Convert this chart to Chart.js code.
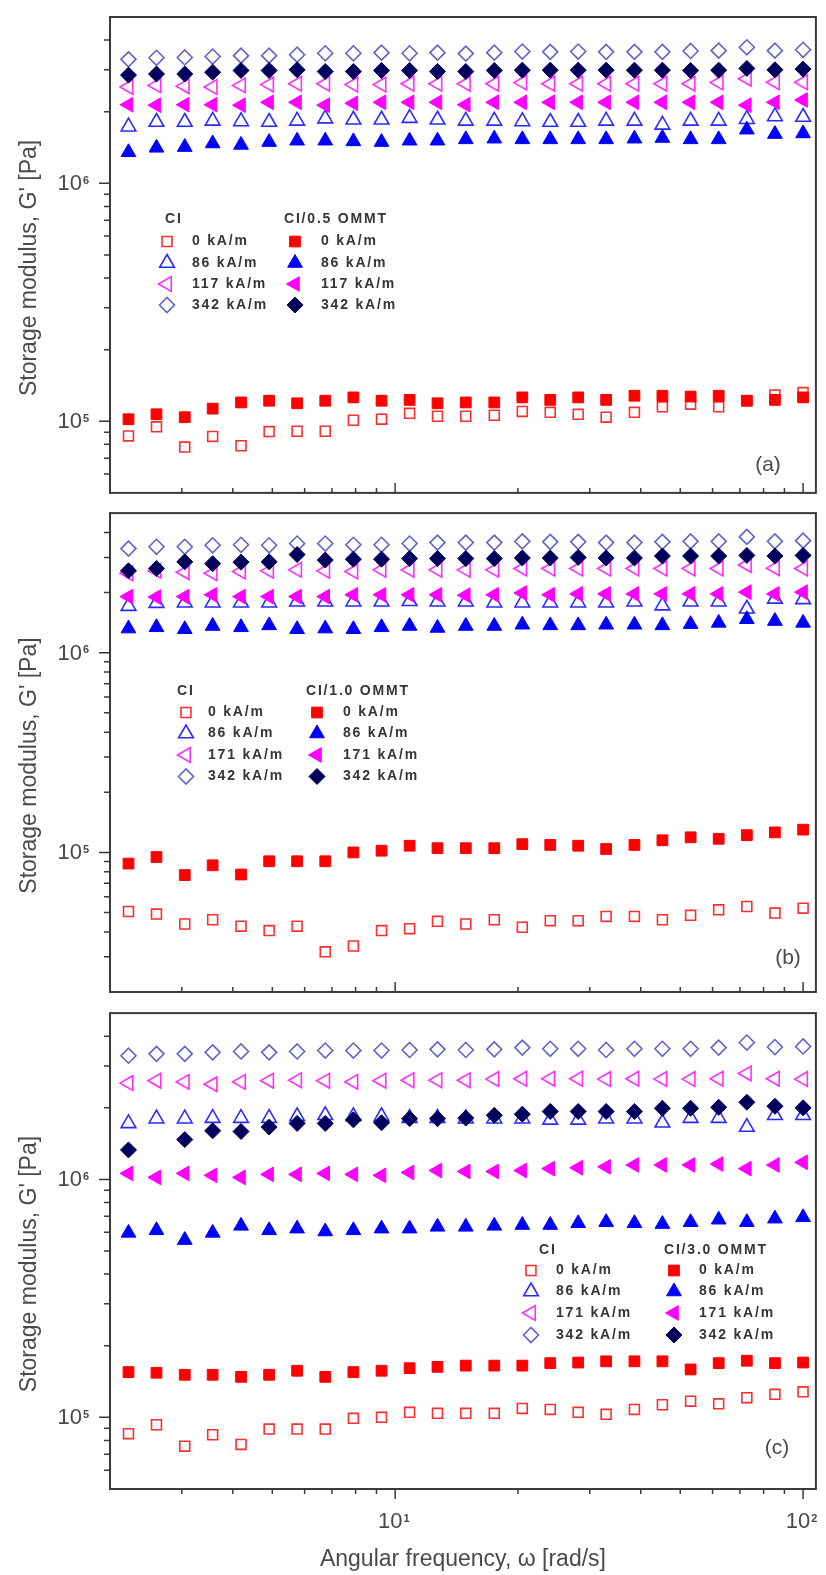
<!DOCTYPE html>
<html>
<head>
<meta charset="utf-8">
<script src="https://cdn.jsdelivr.net/npm/chart.js@4.4.1/dist/chart.umd.min.js"></script>
<style>
  html, body { margin: 0; padding: 0; background: #ffffff; }
  #wrap { position: relative; width: 826px; height: 1575px; overflow: hidden; background: #ffffff; }
  #wrap canvas { position: absolute; left: 0; }
</style>
</head>
<body>
<div id="wrap">
  <canvas id="panelA" width="826" height="503" style="top:0px"></canvas>
  <canvas id="panelB" width="826" height="500" style="top:503px"></canvas>
  <canvas id="panelC" width="826" height="572" style="top:1003px"></canvas>
</div>
<script>
// ---- Angular frequency sweep [rad/s] ----
const freq = [2.22, 2.60, 3.05, 3.57, 4.19, 4.91, 5.75, 6.74, 7.90, 9.26, 10.85, 12.7, 14.9,
              17.5, 20.5, 24.0, 28.1, 32.9, 38.6, 45.2, 53.0, 62.1, 72.8, 85.3, 100];

// ---- (a) CI and CI/0.5 OMMT, storage modulus G' [Pa] ----
const a_ci_0   = [8.68e4, 9.48e4, 7.79e4, 8.64e4, 7.89e4, 9.05e4, 9.08e4, 9.08e4, 1.01e5, 1.02e5, 1.08e5, 1.05e5, 1.05e5,
                  1.06e5, 1.10e5, 1.09e5, 1.07e5, 1.04e5, 1.09e5, 1.15e5, 1.18e5, 1.15e5, 1.22e5, 1.29e5, 1.32e5];
const a_ci_86  = [1.73e6, 1.81e6, 1.81e6, 1.83e6, 1.82e6, 1.81e6, 1.83e6, 1.87e6, 1.85e6, 1.85e6, 1.88e6, 1.85e6, 1.83e6,
                  1.83e6, 1.82e6, 1.81e6, 1.81e6, 1.83e6, 1.83e6, 1.76e6, 1.83e6, 1.83e6, 1.86e6, 1.91e6, 1.90e6];
const a_ci_117 = [2.54e6, 2.58e6, 2.56e6, 2.54e6, 2.58e6, 2.60e6, 2.62e6, 2.62e6, 2.60e6, 2.60e6, 2.62e6, 2.62e6, 2.62e6,
                  2.62e6, 2.65e6, 2.62e6, 2.62e6, 2.62e6, 2.62e6, 2.62e6, 2.62e6, 2.65e6, 2.75e6, 2.66e6, 2.66e6];
const a_ci_342 = [3.32e6, 3.37e6, 3.38e6, 3.41e6, 3.44e6, 3.44e6, 3.47e6, 3.52e6, 3.52e6, 3.54e6, 3.52e6, 3.54e6, 3.51e6,
                  3.54e6, 3.58e6, 3.57e6, 3.58e6, 3.57e6, 3.57e6, 3.57e6, 3.60e6, 3.61e6, 3.73e6, 3.61e6, 3.64e6];
const a_om_0   = [1.02e5, 1.07e5, 1.04e5, 1.13e5, 1.20e5, 1.22e5, 1.19e5, 1.22e5, 1.26e5, 1.22e5, 1.23e5, 1.19e5, 1.20e5,
                  1.20e5, 1.26e5, 1.23e5, 1.26e5, 1.23e5, 1.28e5, 1.28e5, 1.27e5, 1.28e5, 1.22e5, 1.23e5, 1.26e5];
const a_om_86  = [1.35e6, 1.41e6, 1.42e6, 1.47e6, 1.45e6, 1.49e6, 1.51e6, 1.51e6, 1.50e6, 1.49e6, 1.51e6, 1.51e6, 1.53e6,
                  1.54e6, 1.53e6, 1.53e6, 1.53e6, 1.53e6, 1.54e6, 1.55e6, 1.53e6, 1.53e6, 1.68e6, 1.61e6, 1.62e6];
const a_om_117 = [2.14e6, 2.13e6, 2.14e6, 2.14e6, 2.13e6, 2.19e6, 2.19e6, 2.13e6, 2.17e6, 2.19e6, 2.19e6, 2.19e6, 2.14e6,
                  2.19e6, 2.19e6, 2.19e6, 2.19e6, 2.19e6, 2.19e6, 2.19e6, 2.19e6, 2.19e6, 2.13e6, 2.19e6, 2.24e6];
const a_om_342 = [2.85e6, 2.88e6, 2.88e6, 2.93e6, 2.98e6, 2.98e6, 3.00e6, 2.95e6, 2.95e6, 2.98e6, 2.98e6, 2.95e6, 2.95e6,
                  2.98e6, 2.99e6, 2.99e6, 2.99e6, 2.99e6, 2.99e6, 2.99e6, 2.98e6, 2.99e6, 3.04e6, 3.00e6, 3.02e6];

// ---- (b) CI and CI/1.0 OMMT ----
const b_ci_0   = [5.06e4, 4.91e4, 4.38e4, 4.60e4, 4.27e4, 4.06e4, 4.27e4, 3.18e4, 3.40e4, 4.06e4, 4.15e4, 4.52e4, 4.38e4,
                  4.60e4, 4.22e4, 4.55e4, 4.55e4, 4.78e4, 4.78e4, 4.60e4, 4.84e4, 5.16e4, 5.36e4, 4.97e4, 5.26e4];
const b_ci_86  = [1.71e6, 1.77e6, 1.78e6, 1.78e6, 1.78e6, 1.78e6, 1.80e6, 1.80e6, 1.80e6, 1.80e6, 1.81e6, 1.80e6, 1.80e6,
                  1.78e6, 1.78e6, 1.78e6, 1.78e6, 1.78e6, 1.80e6, 1.72e6, 1.80e6, 1.80e6, 1.66e6, 1.86e6, 1.85e6];
const b_ci_171 = [2.50e6, 2.57e6, 2.53e6, 2.50e6, 2.55e6, 2.57e6, 2.60e6, 2.57e6, 2.55e6, 2.60e6, 2.60e6, 2.60e6, 2.60e6,
                  2.60e6, 2.64e6, 2.64e6, 2.64e6, 2.64e6, 2.64e6, 2.64e6, 2.64e6, 2.64e6, 2.75e6, 2.65e6, 2.64e6];
const b_ci_342 = [3.32e6, 3.39e6, 3.39e6, 3.45e6, 3.47e6, 3.45e6, 3.52e6, 3.52e6, 3.47e6, 3.47e6, 3.52e6, 3.56e6, 3.56e6,
                  3.56e6, 3.61e6, 3.59e6, 3.59e6, 3.56e6, 3.56e6, 3.59e6, 3.61e6, 3.61e6, 3.80e6, 3.61e6, 3.64e6];
const b_om_0   = [8.79e4, 9.48e4, 7.70e4, 8.62e4, 7.75e4, 9.03e4, 9.03e4, 9.03e4, 1.00e5, 1.02e5, 1.08e5, 1.05e5, 1.05e5,
                  1.05e5, 1.10e5, 1.09e5, 1.08e5, 1.04e5, 1.09e5, 1.15e5, 1.19e5, 1.17e5, 1.22e5, 1.26e5, 1.30e5];
const b_om_86  = [1.32e6, 1.34e6, 1.31e6, 1.36e6, 1.34e6, 1.37e6, 1.31e6, 1.32e6, 1.31e6, 1.34e6, 1.36e6, 1.33e6, 1.36e6,
                  1.36e6, 1.38e6, 1.37e6, 1.37e6, 1.38e6, 1.38e6, 1.37e6, 1.39e6, 1.41e6, 1.47e6, 1.44e6, 1.41e6];
const b_om_171 = [1.91e6, 1.90e6, 1.91e6, 1.95e6, 1.91e6, 1.91e6, 1.91e6, 1.91e6, 1.95e6, 1.95e6, 1.95e6, 1.95e6, 1.94e6,
                  1.95e6, 1.99e6, 1.95e6, 1.97e6, 1.97e6, 1.97e6, 1.97e6, 1.97e6, 1.97e6, 2.01e6, 1.97e6, 2.01e6];
const b_om_342 = [2.57e6, 2.64e6, 2.85e6, 2.79e6, 2.84e6, 2.85e6, 3.10e6, 2.91e6, 2.94e6, 2.94e6, 2.96e6, 2.96e6, 2.96e6,
                  2.96e6, 2.98e6, 2.98e6, 3.00e6, 2.98e6, 2.98e6, 3.05e6, 3.05e6, 3.05e6, 3.07e6, 3.05e6, 3.07e6];

// ---- (c) CI and CI/3.0 OMMT ----
const c_ci_0   = [8.54e4, 9.31e4, 7.57e4, 8.45e4, 7.70e4, 8.93e4, 8.93e4, 8.93e4, 9.91e4, 1.00e5, 1.05e5, 1.04e5, 1.04e5,
                  1.04e5, 1.09e5, 1.08e5, 1.05e5, 1.03e5, 1.08e5, 1.13e5, 1.17e5, 1.14e5, 1.21e5, 1.25e5, 1.28e5];
const c_ci_86  = [1.72e6, 1.80e6, 1.80e6, 1.81e6, 1.81e6, 1.81e6, 1.84e6, 1.86e6, 1.84e6, 1.84e6, 1.81e6, 1.81e6, 1.80e6,
                  1.80e6, 1.80e6, 1.78e6, 1.78e6, 1.80e6, 1.80e6, 1.73e6, 1.81e6, 1.81e6, 1.66e6, 1.86e6, 1.86e6];
const c_ci_171 = [2.54e6, 2.60e6, 2.57e6, 2.51e6, 2.57e6, 2.60e6, 2.61e6, 2.60e6, 2.57e6, 2.60e6, 2.61e6, 2.61e6, 2.61e6,
                  2.64e6, 2.65e6, 2.65e6, 2.65e6, 2.64e6, 2.65e6, 2.64e6, 2.64e6, 2.65e6, 2.79e6, 2.65e6, 2.64e6];
const c_ci_342 = [3.31e6, 3.37e6, 3.37e6, 3.42e6, 3.45e6, 3.42e6, 3.45e6, 3.48e6, 3.48e6, 3.48e6, 3.50e6, 3.52e6, 3.50e6,
                  3.52e6, 3.58e6, 3.54e6, 3.54e6, 3.50e6, 3.54e6, 3.54e6, 3.54e6, 3.58e6, 3.76e6, 3.60e6, 3.62e6];
const c_om_0   = [1.55e5, 1.54e5, 1.51e5, 1.51e5, 1.48e5, 1.51e5, 1.57e5, 1.48e5, 1.55e5, 1.57e5, 1.61e5, 1.63e5, 1.65e5,
                  1.65e5, 1.65e5, 1.69e5, 1.70e5, 1.72e5, 1.72e5, 1.72e5, 1.59e5, 1.69e5, 1.73e5, 1.69e5, 1.70e5];
const c_om_86  = [5.96e5, 6.11e5, 5.56e5, 5.96e5, 6.38e5, 6.11e5, 6.21e5, 6.04e5, 6.11e5, 6.21e5, 6.21e5, 6.32e5, 6.32e5,
                  6.38e5, 6.43e5, 6.43e5, 6.54e5, 6.61e5, 6.54e5, 6.49e5, 6.61e5, 6.77e5, 6.61e5, 6.84e5, 6.93e5];
const c_om_171 = [1.06e6, 1.02e6, 1.06e6, 1.04e6, 1.02e6, 1.05e6, 1.05e6, 1.06e6, 1.05e6, 1.04e6, 1.07e6, 1.09e6, 1.08e6,
                  1.08e6, 1.09e6, 1.11e6, 1.12e6, 1.13e6, 1.15e6, 1.15e6, 1.15e6, 1.16e6, 1.11e6, 1.15e6, 1.18e6];
const c_om_342 = [1.33e6, null,   1.47e6, 1.60e6, 1.59e6, 1.66e6, 1.72e6, 1.72e6, 1.78e6, 1.73e6, 1.80e6, 1.80e6, 1.81e6,
                  1.86e6, 1.88e6, 1.93e6, 1.93e6, 1.93e6, 1.93e6, 1.99e6, 1.99e6, 2.01e6, 2.11e6, 2.03e6, 2.00e6];

// ---- legend and axis texts ----
const fieldLabelsA  = ['0 kA/m', '86 kA/m', '117 kA/m', '342 kA/m'];
const fieldLabelsBC = ['0 kA/m', '86 kA/m', '171 kA/m', '342 kA/m'];
const yMajorExp = [5, 6];          // decade labels on the modulus axis
const xMajorExp = [1, 2];          // decade labels on the frequency axis
const yMinorTicks = [2e4, 3e4, 4e4, 5e4, 6e4, 7e4, 8e4, 9e4, 2e5, 3e5, 4e5, 5e5, 6e5, 7e5, 8e5, 9e5, 2e6, 3e6, 4e6];
const xMinorTicks = [3, 4, 5, 6, 7, 8, 9, 20, 30, 40, 50, 60, 70, 80, 90];
const yTitle = "Storage modulus, G' [Pa]";
const xTitle = 'Angular frequency, \u03C9 [rad/s]';

// ---- marker styles ----
const STYLE = {
  ci0:   { shape: 'rect',     color: '#ff2e2e', fill: false, r: 7.0, rot: 0 },
  ci86:  { shape: 'triangle', color: '#2b2bff', fill: false, r: 8.5, rot: 0 },
  ciMid: { shape: 'triangle', color: '#ff2eff', fill: false, r: 8.5, rot: -90 },
  ci342: { shape: 'rectRot',  color: '#6262c6', fill: false, r: 7.5, rot: 0 },
  om0:   { shape: 'rect',     color: '#ff0000', fill: true,  r: 7.6, rot: 0 },
  om86:  { shape: 'triangle', color: '#0000ff', fill: true,  r: 8.5, rot: 0 },
  omMid: { shape: 'triangle', color: '#ff00ff', fill: true,  r: 8.5, rot: -90 },
  om342: { shape: 'rectRot',  color: '#00005c', fill: true,  r: 8.0, rot: 0 }
};

const FONT = '"Liberation Sans", Arial, Helvetica, sans-serif';
const AXIS_COLOR = '#3a3a3a';
const TEXT_COLOR = '#4a4a4a';

function dataset(values, st, order) {
  return {
    data: freq.map((f, i) => ({ x: f, y: values[i] })),
    pointStyle: st.shape,
    pointRadius: st.r,
    pointHoverRadius: st.r,
    pointRotation: st.rot,
    pointBackgroundColor: st.fill ? st.color : '#ffffff',
    pointBorderColor: st.color,
    pointBorderWidth: st.fill ? 1 : 1.6,
    showLine: false,
    order: order
  };
}

function marker(ctx, st, x, y) {
  ctx.save();
  ctx.fillStyle = st.fill ? st.color : '#ffffff';
  ctx.strokeStyle = st.color;
  ctx.lineWidth = st.fill ? 1 : 1.6;
  Chart.helpers.drawPoint(ctx, { pointStyle: st.shape, radius: st.r, rotation: st.rot, borderWidth: ctx.lineWidth }, x, y);
  ctx.restore();
}

function tenPower(ctx, exp, x, y, align) {
  ctx.fillStyle = TEXT_COLOR;
  ctx.font = '22px ' + FONT;
  ctx.textBaseline = 'middle';
  const w = ctx.measureText('10').width;
  const left = align === 'right' ? x - w : x - w / 2;
  ctx.textAlign = 'left';
  ctx.fillText('10', left, y);
  ctx.font = 'bold 11px ' + FONT;
  ctx.textBaseline = 'top';
  ctx.fillText(String(exp), left + w + 1, y - 9);
}

// Frame, tick marks, tick labels, titles and the two-column legend
const decorPlugin = {
  id: 'decor',
  afterDraw(chart, args, o) {
    const { ctx, chartArea: ca } = chart;
    const xs = chart.scales.x, ys = chart.scales.y;
    const off = o.offset;
    ctx.save();

    // box
    ctx.strokeStyle = AXIS_COLOR;
    ctx.lineWidth = 2;
    ctx.strokeRect(ca.left, ca.top, ca.right - ca.left, ca.bottom - ca.top);

    // y ticks (outward)
    ctx.lineWidth = 1.5;
    ctx.beginPath();
    yMajorExp.forEach(e => {
      const p = ys.getPixelForValue(Math.pow(10, e));
      ctx.moveTo(ca.left - 11, p); ctx.lineTo(ca.left, p);
    });
    yMinorTicks.forEach(v => {
      if (v <= ys.min || v >= ys.max) return;
      const p = ys.getPixelForValue(v);
      ctx.moveTo(ca.left - 6, p); ctx.lineTo(ca.left, p);
    });
    // x ticks
    const d = o.xTickDir;
    xMajorExp.forEach(e => {
      const p = xs.getPixelForValue(Math.pow(10, e));
      ctx.moveTo(p, ca.bottom); ctx.lineTo(p, ca.bottom + d * 10);
    });
    xMinorTicks.forEach(v => {
      if (v <= xs.min || v >= xs.max) return;
      const p = xs.getPixelForValue(v);
      ctx.moveTo(p, ca.bottom); ctx.lineTo(p, ca.bottom + d * 5);
    });
    ctx.stroke();

    // y decade labels
    yMajorExp.forEach(e => {
      const p = ys.getPixelForValue(Math.pow(10, e));
      tenPower(ctx, e, ca.left - 28, p + 1, 'right');
    });

    // x decade labels and title
    if (o.xLabels) {
      xMajorExp.forEach(e => {
        const p = xs.getPixelForValue(Math.pow(10, e));
        tenPower(ctx, e, p - 5, 1522 - off, 'center');
      });
      ctx.fillStyle = TEXT_COLOR;
      ctx.font = '23px ' + FONT;
      ctx.textAlign = 'center';
      ctx.textBaseline = 'middle';
      ctx.fillText(xTitle, (ca.left + ca.right) / 2, 1560 - off);
    }

    // y title
    ctx.save();
    ctx.translate(30, (ca.top + ca.bottom) / 2 + 13);
    ctx.rotate(-Math.PI / 2);
    ctx.fillStyle = TEXT_COLOR;
    ctx.font = '23px ' + FONT;
    ctx.textAlign = 'center';
    ctx.textBaseline = 'middle';
    ctx.fillText(yTitle, 0, 0);
    ctx.restore();

    // panel tag
    ctx.fillStyle = TEXT_COLOR;
    ctx.font = '21px ' + FONT;
    ctx.textAlign = 'center';
    ctx.textBaseline = 'middle';
    ctx.fillText(o.tag.text, o.tag.x, o.tag.y - off);

    // legend
    const L = o.legend;
    ctx.fillStyle = '#353535';
    ctx.font = 'bold 14px ' + FONT;
    if ('letterSpacing' in ctx) ctx.letterSpacing = '1.8px';
    ctx.textAlign = 'left';
    ctx.textBaseline = 'middle';
    ctx.fillText('CI', L.h1x, L.hy - off);
    ctx.fillText(L.head2, L.h2x, L.hy - off);
    L.labels.forEach((lab, i) => {
      const yy = L.rows[i] - off;
      ctx.fillText(lab, L.t1x, yy);
      ctx.fillText(lab, L.t2x, yy);
    });
    if ('letterSpacing' in ctx) ctx.letterSpacing = '0px';
    const open = [STYLE.ci0, STYLE.ci86, STYLE.ciMid, STYLE.ci342];
    const full = [STYLE.om0, STYLE.om86, STYLE.omMid, STYLE.om342];
    L.rows.forEach((ry, i) => {
      marker(ctx, open[i], L.m1x, ry - off);
      marker(ctx, full[i], L.m2x, ry - off);
    });
    ctx.restore();
  }
};

function buildPanel(id, cfg) {
  const canvas = document.getElementById(id);
  const H = canvas.height;
  return new Chart(canvas, {
    type: 'scatter',
    data: { datasets: cfg.datasets },
    plugins: [decorPlugin],
    options: {
      responsive: false,
      animation: false,
      devicePixelRatio: 1,
      events: [],
      layout: { padding: { left: 0, right: 4, top: cfg.top - cfg.offset, bottom: 0 } },
      plugins: {
        legend: { display: false },
        tooltip: { enabled: false },
        decor: cfg.decor
      },
      scales: {
        x: {
          type: 'logarithmic', min: 2, max: 107.5,
          grid: { display: false }, border: { display: false }, ticks: { display: false },
          afterFit(s) { s.height = H - (cfg.bottom - cfg.offset); }
        },
        y: {
          type: 'logarithmic', min: cfg.yMin, max: cfg.yMax,
          grid: { display: false }, border: { display: false }, ticks: { display: false },
          afterFit(s) { s.width = 110; }
        }
      }
    }
  });
}

function seriesSet(ci0, ci86, ciMid, ci342, om0, om86, omMid, om342) {
  return [
    dataset(om342, STYLE.om342, 0), dataset(omMid, STYLE.omMid, 0),
    dataset(om86, STYLE.om86, 0),   dataset(om0, STYLE.om0, 0),
    dataset(ci342, STYLE.ci342, 1), dataset(ciMid, STYLE.ciMid, 1),
    dataset(ci86, STYLE.ci86, 1),   dataset(ci0, STYLE.ci0, 1)
  ];
}

buildPanel('panelA', {
  offset: 0, top: 17, bottom: 498, yMin: 5e4, yMax: 5e6,
  datasets: seriesSet(a_ci_0, a_ci_86, a_ci_117, a_ci_342, a_om_0, a_om_86, a_om_117, a_om_342),
  decor: {
    offset: 0, xTickDir: -1, xLabels: false,
    tag: { text: '(a)', x: 768, y: 465 },
    legend: { head2: 'CI/0.5 OMMT', h1x: 165, h2x: 284, hy: 219, rows: [241.5, 263, 284, 305],
              m1x: 167, t1x: 192, m2x: 295, t2x: 321, labels: fieldLabelsA }
  }
});

buildPanel('panelB', {
  offset: 503, top: 509, bottom: 992, yMin: 2e4, yMax: 5e6,
  datasets: seriesSet(b_ci_0, b_ci_86, b_ci_171, b_ci_342, b_om_0, b_om_86, b_om_171, b_om_342),
  decor: {
    offset: 503, xTickDir: -1, xLabels: false,
    tag: { text: '(b)', x: 788, y: 958 },
    legend: { head2: 'CI/1.0 OMMT', h1x: 177, h2x: 306, hy: 691, rows: [712.5, 733.5, 755, 776.5],
              m1x: 186, t1x: 208, m2x: 317, t2x: 343, labels: fieldLabelsBC }
  }
});

buildPanel('panelC', {
  offset: 1003, top: 1008, bottom: 1489, yMin: 5e4, yMax: 5e6,
  datasets: seriesSet(c_ci_0, c_ci_86, c_ci_171, c_ci_342, c_om_0, c_om_86, c_om_171, c_om_342),
  decor: {
    offset: 1003, xTickDir: 1, xLabels: true,
    tag: { text: '(c)', x: 777, y: 1448 },
    legend: { head2: 'CI/3.0 OMMT', h1x: 539, h2x: 664, hy: 1250, rows: [1270.5, 1291.5, 1313, 1335],
              m1x: 531, t1x: 556, m2x: 674, t2x: 699, labels: fieldLabelsBC }
  }
});
</script>
</body>
</html>
